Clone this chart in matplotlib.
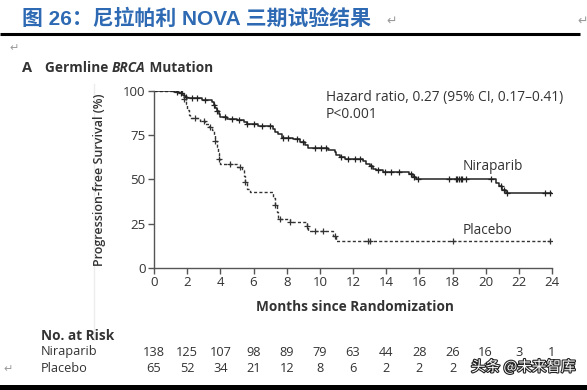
import numpy as np
import matplotlib; matplotlib.use("Agg")
import matplotlib.pyplot as plt
import matplotlib.patheffects as pe

# ---- data ----
nira_t = [0, 1.2, 1.5, 1.7, 1.8, 1.9, 2.0, 2.9, 3.5, 3.6, 3.7, 3.8, 3.9, 4.0, 4.4, 5.0,
          5.4, 5.6, 6.3, 7.2, 7.3, 7.5, 7.7, 8.4, 8.8, 9.1, 9.3, 10.5, 10.9, 11.0, 11.2,
          11.5, 12.6, 12.8, 13.0, 13.2, 13.4, 13.8, 15.4, 15.6, 15.8, 20.6, 20.8, 21.0, 21.2]
nira_s = [100, 99.3, 98.6, 97.8, 97.1, 96.4, 95.7, 95.0, 93.5, 91.9, 90.3, 88.7, 87.1, 85.0,
          84.2, 83.4, 82.6, 81.0, 80.2, 78.6, 76.9, 75.3, 73.6, 72.7, 71.0, 69.2, 67.4, 66.4,
          65.2, 63.8, 62.4, 61.5, 60.2, 58.8, 57.4, 56.0, 55.0, 54.3, 53.0, 51.6, 50.4, 48.0,
          46.0, 44.0, 42.2]
plac_t = [0, 1.7, 1.8, 1.9, 2.0, 2.1, 2.2, 2.8, 3.1, 3.3, 3.5, 3.6, 3.7, 3.8, 3.85, 3.9, 4.0,
          5.0, 5.3, 5.4, 5.5, 5.6, 5.8, 7.2, 7.3, 7.4, 7.5, 8.2, 9.2, 9.3, 10.8, 11.0]
plac_s = [100, 98.5, 95.4, 92.3, 89.2, 86.2, 84.6, 83.0, 81.4, 79.8, 78.1, 74.9, 71.6, 68.3,
          65.0, 61.7, 58.4, 56.9, 55.3, 51.8, 48.3, 44.8, 42.9, 39.3, 35.7, 31.7, 27.8, 25.8,
          23.5, 20.6, 18.0, 15.4]
nira_end, plac_end = 24.0, 24.0

nira_cens = [1.4, 1.6, 1.9, 2.3, 2.6, 3.1, 3.6, 3.8, 4.3, 4.7, 5.1, 5.6, 6.0, 6.5, 7.0, 7.8,
             8.1, 8.6, 9.0, 9.7, 10.1, 10.4, 11.3, 11.7, 12.1, 12.4, 13.1, 13.5, 13.9, 14.3,
             14.8, 15.5, 15.7, 15.9, 17.8, 18.2, 18.3, 18.4, 18.5, 18.6, 18.8, 20.3, 20.9,
             21.1, 21.3, 23.6, 23.9]
plac_cens = [1.8, 2.5, 3.0, 3.4, 3.7, 3.9, 4.6, 5.2, 5.5, 7.3, 7.6, 8.2, 9.2, 9.7, 10.2,
             10.9, 12.9, 13.0, 18.0, 23.9]

risk_months = [0, 2, 4, 6, 8, 10, 12, 14, 16, 18, 20, 22, 24]
risk_nira = [138, 125, 107, 98, 89, 79, 63, 44, 28, 26, 16, 3, 1]
risk_plac = [65, 52, 34, 21, 12, 8, 6, 2, 2, 2, 2, 1, 0]

title = "图 26：尼拉帕利 NOVA 三期试验结果"
hr_text = "Hazard ratio, 0.27 (95% CI, 0.17–0.41)\nP<0.001"

W, H = 587, 390
FONT = "Open Sans"
INK = "#333333"

fig = plt.figure(figsize=(W / 100, H / 100), dpi=100)

# overlay in pixel coordinates for page decorations
ov = fig.add_axes([0, 0, 1, 1])
ov.set_xlim(0, W); ov.set_ylim(H, 0); ov.axis("off")

ov.text(22, 19, title, fontsize=15, fontweight="bold", color="#2E6AB3",
        family=["Liberation Sans", "Noto Sans CJK SC"], va="center", ha="left")
ov.text(386, 21, "↵", fontsize=9, color="#999999", family="DejaVu Sans", va="center")
ov.text(577, 21, "↵", fontsize=9, color="#999999", family="DejaVu Sans", va="center")
ov.plot([0, 580], [33.5, 33.5], color="black", lw=2.2, solid_capstyle="butt")
ov.text(9, 48, "↵", fontsize=8, color="#999999", family="DejaVu Sans", va="center")
ov.text(3, 369, "↵", fontsize=8, color="#999999", family="DejaVu Sans", va="center")
ov.add_patch(plt.Rectangle((0, 385), W, 6, color="black", lw=0))
ov.plot([94, 94], [84, 340], color="#ececec", lw=1)

# panel heading with the italic gene name
ov.text(22, 75, "A", fontsize=10.5, fontweight="bold", color=INK, family=FONT, va="bottom")
t2 = ov.text(45, 75, "Germline ", fontsize=9.8, fontweight="bold", color=INK, family=FONT, va="bottom")
t3 = ov.annotate("BRCA", xy=(1, 0), xycoords=t2, fontsize=9.8, fontweight="bold",
                 style="italic", color=INK, family=FONT, va="bottom")
ov.annotate(" Mutation", xy=(1, 0), xycoords=t3, fontsize=9.8, fontweight="bold",
            color=INK, family=FONT, va="bottom")

# ---- KM plot ----
ax = fig.add_axes([154 / W, 1 - 268 / H, (552 - 154) / W, (268 - 90.7) / H])
ax.patch.set_alpha(0)


def step_xy(t, s, end):
    return np.append(t, end), np.append(s, s[-1])


def surv_at(t, s, x):
    idx = np.searchsorted(t, x, side="right") - 1
    return np.asarray(s)[idx]


xn, yn = step_xy(nira_t, nira_s, nira_end)
xp, yp = step_xy(plac_t, plac_s, plac_end)
ax.step(xp, yp, where="post", color=INK, lw=1.0, ls=(0, (2.2, 1.6)))
ax.step(xn, yn, where="post", color="#222222", lw=1.1)
ax.plot(nira_cens, surv_at(nira_t, nira_s, nira_cens), ls="none", marker="+",
        ms=5, mew=0.9, color="#222222")
ax.plot(plac_cens, surv_at(plac_t, plac_s, plac_cens), ls="none", marker="+",
        ms=5, mew=0.9, color=INK)

ax.set_xlim(0, 24)
ax.set_ylim(0, 100)
ax.set_xticks(range(0, 25, 2))
ax.set_yticks([0, 25, 50, 75, 100])
for side in ("top", "right"):
    ax.spines[side].set_visible(False)
for side in ("left", "bottom"):
    ax.spines[side].set_color("#555555")
    ax.spines[side].set_linewidth(1.0)
ax.tick_params(length=4, width=1, color="#555555", labelsize=9.5, labelcolor=INK, pad=2)
for lab in ax.get_xticklabels() + ax.get_yticklabels():
    lab.set_family(FONT)
ax.margins(0)

ov.text(326, 106, hr_text, fontsize=9.9, color=INK, family=FONT, va="center",
        linespacing=1.1)
ov.text(463, 167, "Niraparib", fontsize=9.8, color=INK, family=FONT, va="center")
ov.text(463, 231, "Placebo", fontsize=9.8, color=INK, family=FONT, va="center")

ov.text(100, 180, "Progression-free Survival (%)", rotation=90, fontsize=9,
        fontweight="semibold", color=INK, family=FONT, ha="center", va="center")
ov.text(355, 307, "Months since Randomization", fontsize=9.8, fontweight="bold",
        color=INK, family=FONT, ha="center", va="center")

# ---- number at risk ----
ov.text(41, 336, "No. at Risk", fontsize=9.8, fontweight="bold", color=INK, family=FONT, va="center")
ov.text(41, 352, "Niraparib", fontsize=9.2, color=INK, family=FONT, va="center")
ov.text(41, 368, "Placebo", fontsize=9.2, color=INK, family=FONT, va="center")
for m, a, b in zip(risk_months, risk_nira, risk_plac):
    px = 154 + m * (552 - 154) / 24
    ov.text(px, 352, str(a), fontsize=9.2, color=INK, family=FONT, ha="center", va="center")
    ov.text(px, 368, str(b), fontsize=9.2, color=INK, family=FONT, ha="center", va="center")

# watermark
ov.text(471, 367, "头条 @未来智库", fontsize=10.5, color="white", family=["Noto Sans CJK SC"],
        va="center", ha="left",
        path_effects=[pe.withStroke(linewidth=1.6, foreground="#222222")])

fig.savefig("out.png", dpi=100)
